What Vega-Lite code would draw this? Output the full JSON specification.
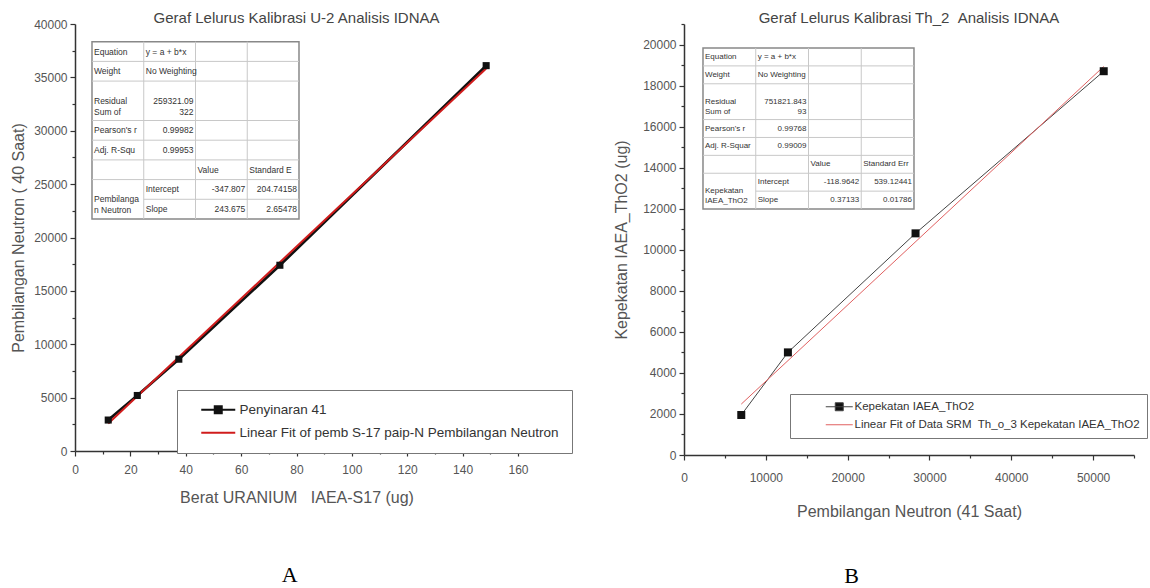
{
  "$schema": "https://vega.github.io/schema/vega-lite/v6.json",
  "padding": {"left": 10, "top": 11, "right": 0, "bottom": 0},
  "background": "white",
  "config": {
    "view": {"stroke": null},
    "axis": {
      "grid": false,
      "domainColor": "#333",
      "domainWidth": 1.5,
      "tickColor": "#333",
      "tickWidth": 1.2,
      "labelColor": "#555",
      "titleColor": "#555",
      "labelFont": "Liberation Sans",
      "titleFont": "Liberation Sans",
      "titleFontWeight": "normal",
      "labelFontSize": 12,
      "titleFontSize": 16,
      "labelPadding": 3,
      "labelOverlap": false,
      "labelFlush": false
    },
    "legend": {"labelFont": "Liberation Sans", "labelColor": "#333", "labelLimit": 1000},
    "title": {"font": "Liberation Sans", "fontWeight": "normal", "color": "#444"}
  },
  "datasets": {
    "lp": [
      {"x": 12, "y": 2900, "s": "Penyinaran 41"},
      {"x": 22.5, "y": 5200, "s": "Penyinaran 41"},
      {"x": 37.5, "y": 8600, "s": "Penyinaran 41"},
      {"x": 74, "y": 17400, "s": "Penyinaran 41"},
      {"x": 148.5, "y": 36100, "s": "Penyinaran 41"}
    ],
    "lf": [
      {"x": 12, "y": 2576, "s": "Linear Fit of pemb S-17 paip-N Pembilangan Neutron"},
      {"x": 148.5, "y": 35838, "s": "Linear Fit of pemb S-17 paip-N Pembilangan Neutron"}
    ],
    "rp": [
      {"x": 7000, "y": 1950, "s": "Kepekatan IAEA_ThO2"},
      {"x": 12700, "y": 5000, "s": "Kepekatan IAEA_ThO2"},
      {"x": 28300, "y": 10800, "s": "Kepekatan IAEA_ThO2"},
      {"x": 51300, "y": 18700, "s": "Kepekatan IAEA_ThO2"}
    ],
    "rf": [
      {"x": 7000, "y": 2480, "s": "Linear Fit of Data SRM\u00a0\u00a0Th_o_3 Kepekatan IAEA_ThO2"},
      {"x": 51300, "y": 18930, "s": "Linear Fit of Data SRM\u00a0\u00a0Th_o_3 Kepekatan IAEA_ThO2"}
    ],
    "grid": [
      {"x0": 0, "x1": 4, "y0": 1, "y1": 1},
      {"x0": 0, "x1": 4, "y0": 2, "y1": 2},
      {"x0": 0, "x1": 4, "y0": 4, "y1": 4},
      {"x0": 0, "x1": 4, "y0": 5, "y1": 5},
      {"x0": 0, "x1": 4, "y0": 6, "y1": 6},
      {"x0": 0, "x1": 4, "y0": 7, "y1": 7},
      {"x0": 1, "x1": 4, "y0": 8, "y1": 8},
      {"x0": 1, "x1": 1, "y0": 0, "y1": 9},
      {"x0": 2, "x1": 2, "y0": 0, "y1": 9},
      {"x0": 3, "x1": 3, "y0": 0, "y1": 9}
    ],
    "box": [{"x0": 0, "x1": 4, "y0": 0, "y1": 9}],
    "lt": [
      {"x0": 0, "y0": 0.5, "t": "Equation", "a": "l"},
      {"x0": 1, "y0": 0.5, "t": "y = a + b*x", "a": "l"},
      {"x0": 0, "y0": 1.5, "t": "Weight", "a": "l"},
      {"x0": 1, "y0": 1.5, "t": "No Weighting", "a": "l"},
      {"x0": 0, "y0": 3, "t": ["Residual", "Sum of"], "a": "l"},
      {"x0": 2, "y0": 3, "t": ["259321.09", "322"], "a": "r"},
      {"x0": 0, "y0": 4.5, "t": "Pearson's r", "a": "l"},
      {"x0": 2, "y0": 4.5, "t": "0.99982", "a": "r"},
      {"x0": 0, "y0": 5.5, "t": "Adj. R-Squ", "a": "l"},
      {"x0": 2, "y0": 5.5, "t": "0.99953", "a": "r"},
      {"x0": 2, "y0": 6.5, "t": "Value", "a": "l"},
      {"x0": 3, "y0": 6.5, "t": "Standard E", "a": "l"},
      {"x0": 0, "y0": 8, "t": ["Pembilanga", "n Neutron"], "a": "l"},
      {"x0": 1, "y0": 7.5, "t": "Intercept", "a": "l"},
      {"x0": 1, "y0": 8.5, "t": "Slope", "a": "l"},
      {"x0": 3, "y0": 7.5, "t": "-347.807", "a": "r"},
      {"x0": 4, "y0": 7.5, "t": "204.74158", "a": "r"},
      {"x0": 3, "y0": 8.5, "t": "243.675", "a": "r"},
      {"x0": 4, "y0": 8.5, "t": "2.65478", "a": "r"}
    ],
    "rt": [
      {"x0": 0, "y0": 0.5, "t": "Equation", "a": "l"},
      {"x0": 1, "y0": 0.5, "t": "y = a + b*x", "a": "l"},
      {"x0": 0, "y0": 1.5, "t": "Weight", "a": "l"},
      {"x0": 1, "y0": 1.5, "t": "No Weighting", "a": "l"},
      {"x0": 0, "y0": 3, "t": ["Residual", "Sum of"], "a": "l"},
      {"x0": 2, "y0": 3, "t": ["751821.843", "93"], "a": "r"},
      {"x0": 0, "y0": 4.5, "t": "Pearson's r", "a": "l"},
      {"x0": 2, "y0": 4.5, "t": "0.99768", "a": "r"},
      {"x0": 0, "y0": 5.5, "t": "Adj. R-Squar", "a": "l"},
      {"x0": 2, "y0": 5.5, "t": "0.99009", "a": "r"},
      {"x0": 2, "y0": 6.5, "t": "Value", "a": "l"},
      {"x0": 3, "y0": 6.5, "t": "Standard Err", "a": "l"},
      {"x0": 0, "y0": 8, "t": ["Kepekatan", "IAEA_ThO2"], "a": "l"},
      {"x0": 1, "y0": 7.5, "t": "Intercept", "a": "l"},
      {"x0": 1, "y0": 8.5, "t": "Slope", "a": "l"},
      {"x0": 3, "y0": 7.5, "t": "-118.9642", "a": "r"},
      {"x0": 4, "y0": 7.5, "t": "539.12441", "a": "r"},
      {"x0": 3, "y0": 8.5, "t": "0.37133", "a": "r"},
      {"x0": 4, "y0": 8.5, "t": "0.01786", "a": "r"}
    ]
  },
  "spacing": 40,
  "resolve": {"scale": {"color": "independent"}, "legend": {"color": "independent"}},
  "hconcat": [
    {
      "title": {"text": "A", "orient": "bottom", "anchor": "middle", "font": "Liberation Serif", "fontSize": 22, "color": "#000", "offset": 60, "dx": -2},
      "vconcat": [
        {
          "title": {"text": "Geraf Lelurus Kalibrasi U-2 Analisis IDNAA", "fontSize": 15, "offset": -8, "anchor": "middle", "frame": "group"},
          "width": 443,
          "height": 427,
          "resolve": {"scale": {"x": "independent", "y": "independent"}},
          "layer": [
            {
              "encoding": {
                "x": {"field": "x0", "type": "quantitative", "scale": {"domain": [-0.3285, 8.232], "nice": false, "zero": false}, "axis": null},
                "y": {"field": "y0", "type": "quantitative", "scale": {"domain": [-0.898, 20.777], "nice": false, "zero": false, "reverse": true}, "axis": null}
              },
              "layer": [
                {"data": {"name": "box"}, "mark": {"type": "rect", "fill": "white", "stroke": "#888", "strokeWidth": 1.5}, "encoding": {"x2": {"field": "x1"}, "y2": {"field": "y1"}}},
                {"data": {"name": "grid"}, "mark": {"type": "rule", "color": "#c8c8c8", "strokeWidth": 1}, "encoding": {"x2": {"field": "x1"}, "y2": {"field": "y1"}}},
                {"data": {"name": "lt"}, "transform": [{"filter": "datum.a === 'l'"}], "mark": {"type": "text", "align": "left", "baseline": "middle", "dx": 2, "fontSize": 8.5, "lineHeight": 11, "font": "Liberation Sans", "color": "#333"}, "encoding": {"text": {"field": "t", "type": "nominal"}}},
                {"data": {"name": "lt"}, "transform": [{"filter": "datum.a === 'r'"}], "mark": {"type": "text", "align": "right", "baseline": "middle", "dx": -2, "fontSize": 8.5, "lineHeight": 11, "font": "Liberation Sans", "color": "#333"}, "encoding": {"text": {"field": "t", "type": "nominal"}}}
              ]
            },
            {
              "encoding": {
                "x": {"field": "x", "type": "quantitative", "scale": {"domain": [0, 160], "nice": false, "zero": false},
                  "axis": {"title": "Berat URANIUM\u00a0\u00a0\u00a0IAEA-S17 (ug)", "values": [0, 10, 20, 30, 40, 50, 60, 70, 80, 90, 100, 110, 120, 130, 140, 150, 160],
                    "labelExpr": "datum.value % 20 === 0 ? datum.label : ''", "tickSize": {"condition": {"test": "datum.value % 20 === 0", "value": 5}, "value": 3}, "labelPadding": 8, "titlePadding": 14}},
                "y": {"field": "y", "type": "quantitative", "scale": {"domain": [0, 40000], "nice": false, "zero": false},
                  "axis": {"title": "Pembilangan Neutron ( 40 Saat)", "format": "d", "values": [0, 2500, 5000, 7500, 10000, 12500, 15000, 17500, 20000, 22500, 25000, 27500, 30000, 32500, 35000, 37500, 40000],
                    "labelExpr": "datum.value % 5000 === 0 ? datum.label : ''", "tickSize": {"condition": {"test": "datum.value % 5000 === 0", "value": 5}, "value": 3}, "titlePadding": 7}}
              },
              "layer": [
                {"data": {"name": "lp"}, "mark": {"type": "line", "strokeWidth": 2.8},
                  "encoding": {"color": {"field": "s", "type": "nominal",
                    "scale": {"domain": ["Penyinaran 41", "Linear Fit of pemb S-17 paip-N Pembilangan Neutron"], "range": ["#111111", "#d01c1c"]},
                    "legend": {"title": null, "orient": "none", "legendX": 102, "legendY": 366, "strokeColor": "#777", "fillColor": "white", "padding": 13,
                      "labelFontSize": 13.5, "symbolSize": 100, "symbolStrokeWidth": 2, "symbolOffset": 21.5, "labelOffset": 14.5, "rowPadding": 7,
                      "symbolType": "M-1.7,0H1.7",
                      "encode": {"symbols": {"update": {
                        "shape": {"signal": "datum.value === 'Penyinaran 41' ? 'M-3.4,0H3.4M-0.7,-0.7H0.7V0.7H-0.7Z' : 'M-3.4,0H3.4'"},
                        "fill": {"signal": "datum.value === 'Penyinaran 41' ? '#111111' : 'transparent'"}
                      }}}}}}},
                {"data": {"name": "lf"}, "mark": {"type": "line", "strokeWidth": 2}, "encoding": {"color": {"field": "s", "type": "nominal"}}},
                {"data": {"name": "lp"}, "mark": {"type": "point", "shape": "square", "filled": true, "color": "#111", "size": 50, "opacity": 1}}
              ]
            }
          ]
        }
      ]
    },
    {
      "title": {"text": "B", "orient": "bottom", "anchor": "middle", "font": "Liberation Serif", "fontSize": 22, "color": "#000", "offset": 47, "dx": -29},
      "vconcat": [
        {
          "title": {"text": "Geraf Lelurus Kalibrasi Th_2\u00a0\u00a0Analisis IDNAA", "fontSize": 15, "offset": -8, "anchor": "middle", "frame": "group"},
          "width": 450,
          "height": 431,
          "resolve": {"scale": {"x": "independent", "y": "independent"}},
          "layer": [
            {
              "encoding": {
                "x": {"field": "x0", "type": "quantitative", "scale": {"domain": [-0.36, 8.171], "nice": false, "zero": false}, "axis": null},
                "y": {"field": "y0", "type": "quantitative", "scale": {"domain": [-1.342, 22.75], "nice": false, "zero": false, "reverse": true}, "axis": null}
              },
              "layer": [
                {"data": {"name": "box"}, "mark": {"type": "rect", "fill": "white", "stroke": "#888", "strokeWidth": 1.5}, "encoding": {"x2": {"field": "x1"}, "y2": {"field": "y1"}}},
                {"data": {"name": "grid"}, "mark": {"type": "rule", "color": "#c8c8c8", "strokeWidth": 1}, "encoding": {"x2": {"field": "x1"}, "y2": {"field": "y1"}}},
                {"data": {"name": "rt"}, "transform": [{"filter": "datum.a === 'l'"}], "mark": {"type": "text", "align": "left", "baseline": "middle", "dx": 2, "fontSize": 8, "lineHeight": 10, "font": "Liberation Sans", "color": "#333"}, "encoding": {"text": {"field": "t", "type": "nominal"}}},
                {"data": {"name": "rt"}, "transform": [{"filter": "datum.a === 'r'"}], "mark": {"type": "text", "align": "right", "baseline": "middle", "dx": -2, "fontSize": 8, "lineHeight": 10, "font": "Liberation Sans", "color": "#333"}, "encoding": {"text": {"field": "t", "type": "nominal"}}}
              ]
            },
            {
              "encoding": {
                "x": {"field": "x", "type": "quantitative", "scale": {"domain": [0, 55000], "nice": false, "zero": false},
                  "axis": {"title": "Pembilangan Neutron (41 Saat)", "format": "d", "values": [0, 5000, 10000, 15000, 20000, 25000, 30000, 35000, 40000, 45000, 50000, 55000],
                    "labelExpr": "datum.value % 10000 === 0 ? datum.label : ''", "tickSize": {"condition": {"test": "datum.value % 10000 === 0", "value": 5}, "value": 3}, "labelPadding": 12, "titlePadding": 20}},
                "y": {"field": "y", "type": "quantitative", "scale": {"domain": [0, 21000], "nice": false, "zero": false},
                  "axis": {"title": "Kepekatan IAEA_ThO2 (ug)", "format": "d", "values": [0, 1000, 2000, 3000, 4000, 5000, 6000, 7000, 8000, 9000, 10000, 11000, 12000, 13000, 14000, 15000, 16000, 17000, 18000, 19000, 20000, 21000],
                    "labelExpr": "datum.value % 2000 === 0 ? datum.label : ''", "tickSize": {"condition": {"test": "datum.value % 2000 === 0", "value": 5}, "value": 3}, "titlePadding": 13}}
              },
              "layer": [
                {"data": {"name": "rp"}, "mark": {"type": "line", "strokeWidth": 1},
                  "encoding": {"color": {"field": "s", "type": "nominal",
                    "scale": {"domain": ["Kepekatan IAEA_ThO2", "Linear Fit of Data SRM\u00a0\u00a0Th_o_3 Kepekatan IAEA_ThO2"], "range": ["#444444", "#e06060"]},
                    "legend": {"title": null, "orient": "none", "legendX": 106, "legendY": 370, "strokeColor": "#777", "fillColor": "white", "padding": 7,
                      "labelFontSize": 11.5, "symbolSize": 100, "symbolStrokeWidth": 1, "symbolOffset": 36.5, "labelOffset": 9.5, "rowPadding": 5,
                      "symbolType": "M-1.35,0H1.35",
                      "encode": {"symbols": {"update": {
                        "shape": {"signal": "datum.value === 'Kepekatan IAEA_ThO2' ? 'M-2.7,0H2.7M-0.8,-0.8H0.8V0.8H-0.8Z' : 'M-2.7,0H2.7'"},
                        "fill": {"signal": "datum.value === 'Kepekatan IAEA_ThO2' ? '#111111' : 'transparent'"}
                      }}}}}}},
                {"data": {"name": "rf"}, "mark": {"type": "line", "strokeWidth": 1}, "encoding": {"color": {"field": "s", "type": "nominal"}}},
                {"data": {"name": "rp"}, "mark": {"type": "point", "shape": "square", "filled": true, "color": "#111", "size": 64, "opacity": 1}}
              ]
            }
          ]
        }
      ]
    }
  ]
}
